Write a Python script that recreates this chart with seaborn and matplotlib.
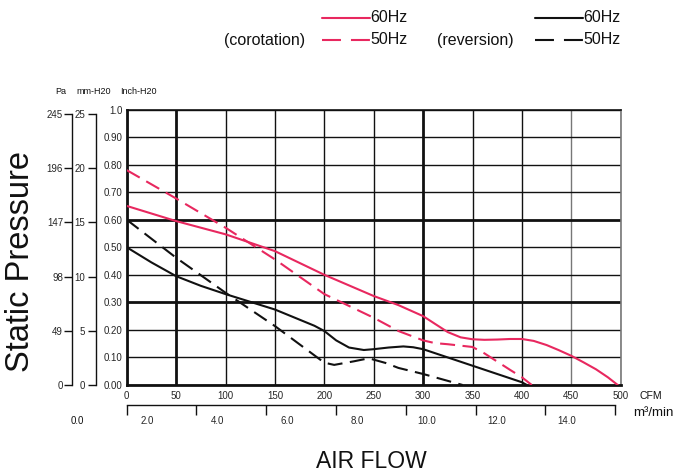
import numpy as np
import pandas as pd
import matplotlib
matplotlib.use("Agg")
import matplotlib.pyplot as plt
import seaborn as sns
from matplotlib.lines import Line2D
from matplotlib import font_manager

# ---------------- data ----------------
co60_cfm = [0, 50, 100, 150, 200, 250, 275, 300, 312, 325, 338, 350, 362, 375, 388, 400, 412, 425, 437, 450, 462, 475, 487, 497]
co60_p = [0.65, 0.595, 0.547, 0.486, 0.40, 0.323, 0.29, 0.25, 0.222, 0.192, 0.173, 0.166, 0.164, 0.165, 0.167, 0.167, 0.16, 0.145, 0.127, 0.106, 0.083, 0.057, 0.028, 0.0]

co50_cfm = [0, 50, 100, 150, 200, 250, 275, 300, 312, 325, 350, 362, 375, 388, 400, 410]
co50_p = [0.78, 0.677, 0.571, 0.456, 0.33, 0.244, 0.196, 0.162, 0.152, 0.148, 0.138, 0.115, 0.085, 0.055, 0.028, 0.0]

re60_cfm = [0, 25, 50, 75, 100, 150, 190, 200, 212, 225, 240, 250, 265, 280, 290, 300, 350, 400, 405]
re60_p = [0.50, 0.445, 0.395, 0.36, 0.33, 0.274, 0.215, 0.196, 0.162, 0.136, 0.127, 0.13, 0.136, 0.14, 0.137, 0.13, 0.07, 0.01, 0.0]

re50_cfm = [0, 50, 100, 150, 200, 210, 230, 245, 262, 275, 300, 340]
re50_p = [0.60, 0.462, 0.335, 0.214, 0.081, 0.073, 0.086, 0.097, 0.08, 0.062, 0.04, 0.0]

cfm_ticks = [0, 50, 100, 150, 200, 250, 300, 350, 400, 450, 500]
inch_ticks = [0.0, 0.1, 0.2, 0.3, 0.4, 0.5, 0.6, 0.7, 0.8, 0.9, 1.0]
inch_labels = ["0.00", "0.10", "0.20", "0.30", "0.40", "0.50", "0.60", "0.70", "0.80", "0.90", "1.0"]
pa_ticks = [0, 49, 98, 147, 196, 245]
mm_ticks = [0, 5, 10, 15, 20, 25]
m3_ticks = [0, 2, 4, 6, 8, 10, 12, 14]
m3_labels = ["2.0", "4.0", "6.0", "8.0", "10.0", "12.0", "14.0"]

RED = "#E8285F"
BLACK = "#111111"

# ---------------- style ----------------
sns.set_theme(style="white")
avail = {f.name for f in font_manager.fontManager.ttflist}
narrow = "Liberation Sans Narrow" if "Liberation Sans Narrow" in avail else "Liberation Sans"
plt.rcParams["font.family"] = ["Liberation Sans", "DejaVu Sans"]
plt.rcParams["text.color"] = "#111111"

W_PX, H_PX = 681, 475
fig = plt.figure(figsize=(W_PX / 100, H_PX / 100), dpi=100)

def fx(px):
    return px / W_PX

def fy(py):
    return 1 - py / H_PX

left_px, right_px, top_px, bot_px = 126.7, 620.7, 109.5, 385.0
ax = fig.add_axes([fx(left_px), fy(bot_px), fx(right_px) - fx(left_px), fy(top_px) - fy(bot_px)])

df = pd.concat([
    pd.DataFrame({"cfm": co60_cfm, "p": co60_p, "s": "co60"}),
    pd.DataFrame({"cfm": co50_cfm, "p": co50_p, "s": "co50"}),
    pd.DataFrame({"cfm": re60_cfm, "p": re60_p, "s": "re60"}),
    pd.DataFrame({"cfm": re50_cfm, "p": re50_p, "s": "re50"}),
])

dash = (0, (7.2, 3.6))
styles = {"co60": (RED, "-"), "co50": (RED, dash), "re60": (BLACK, "-"), "re50": (BLACK, dash)}
for key, (col, ls) in styles.items():
    sub = df[df["s"] == key]
    sns.lineplot(data=sub, x="cfm", y="p", ax=ax, color=col, linestyle=ls,
                 linewidth=1.5, sort=False, estimator=None, zorder=5)
for ln in ax.get_lines():
    ln.set_solid_joinstyle("round")
    ln.set_dash_joinstyle("round")

ax.set_xlim(0, 500)
ax.set_ylim(0, 1.0)
ax.set_xlabel("")
ax.set_ylabel("")
ax.set_xticks(cfm_ticks)
ax.set_xticklabels([str(t) for t in cfm_ticks], fontfamily=narrow, fontsize=7)
ax.set_yticks(inch_ticks)
ax.set_yticklabels(inch_labels, fontfamily=narrow, fontsize=7)
ax.tick_params(axis="x", length=0, pad=4)
ax.tick_params(axis="y", length=0, pad=3)
ax.set_axisbelow(True)
ax.grid(True, color="#111111", linewidth=1.0)
for t, gl in zip(cfm_ticks, ax.get_xgridlines()):
    if t in (50, 300):
        gl.set_linewidth(2.0)
    if t in (450, 500):
        gl.set_color("#777777")
for t, gl in zip(inch_ticks, ax.get_ygridlines()):
    if round(t, 1) in (0.3, 0.6):
        gl.set_linewidth(2.0)

for s in ax.spines.values():
    s.set_visible(True)
    s.set_color("#111111")
ax.spines["left"].set_linewidth(2.0)
ax.spines["bottom"].set_linewidth(2.0)
ax.spines["top"].set_linewidth(1.2)
ax.spines["right"].set_linewidth(1.2)
ax.spines["right"].set_color("#777777")

# ---------------- Pa axis ----------------
def px2pt(p):
    return p * 0.72

axp = ax.twinx()
axp.set_ylim(0, 25.4 * 9.80665)
for k in ("top", "right", "bottom"):
    axp.spines[k].set_visible(False)
axp.spines["left"].set_visible(True)
axp.spines["left"].set_position(("outward", px2pt(left_px - 72.5)))
axp.spines["left"].set_bounds(0, 245)
axp.spines["left"].set_linewidth(1.0)
axp.spines["left"].set_color("#111111")
axp.yaxis.set_ticks_position("left")
axp.set_yticks(pa_ticks)
axp.set_yticklabels([str(t) for t in pa_ticks], fontfamily=narrow, fontsize=7)
axp.tick_params(axis="y", direction="out", length=px2pt(8), width=1.0, pad=1, color="#111111")
axp.grid(False)

# ---------------- mm axis ----------------
axm = ax.twinx()
axm.set_ylim(0, 25.4)
for k in ("top", "right", "bottom"):
    axm.spines[k].set_visible(False)
axm.spines["left"].set_visible(True)
axm.spines["left"].set_position(("outward", px2pt(left_px - 96)))
axm.spines["left"].set_bounds(0, 25)
axm.spines["left"].set_linewidth(1.0)
axm.spines["left"].set_color("#111111")
axm.yaxis.set_ticks_position("left")
axm.set_yticks(mm_ticks)
axm.set_yticklabels([str(t) for t in mm_ticks], fontfamily=narrow, fontsize=7)
axm.tick_params(axis="y", direction="out", length=px2pt(8), width=1.0, pad=2, color="#111111")
axm.grid(False)

# ---------------- m3/min axis ----------------
axq = ax.twiny()
axq.set_xlim(0, 500 / 35.3147)
for k in ("top", "right", "left"):
    axq.spines[k].set_visible(False)
axq.spines["bottom"].set_visible(True)
axq.spines["bottom"].set_position(("outward", px2pt(405 - bot_px)))
axq.spines["bottom"].set_bounds(0, 14)
axq.spines["bottom"].set_linewidth(1.0)
axq.spines["bottom"].set_color("#111111")
axq.xaxis.set_ticks_position("bottom")
axq.set_xticks(m3_ticks)
axq.set_xticklabels([""] * len(m3_ticks))
axq.set_xticks(np.array(m3_ticks[:-1]) + 0.6, minor=True)
axq.set_xticklabels(m3_labels, minor=True, fontfamily=narrow, fontsize=7)
axq.tick_params(axis="x", which="major", direction="out", length=px2pt(10), width=1.0, color="#111111")
axq.tick_params(axis="x", which="minor", length=0, pad=8)
axq.grid(False)

fig.text(fx(77), fy(421), "0.0", fontfamily=narrow, fontsize=7, ha="center", va="center")
fig.text(fx(639), fy(396), "CFM", fontsize=7.5, ha="left", va="center")
fig.text(fx(633), fy(413), "m³/min", fontsize=9.5, ha="left", va="center")

# headers
fig.text(fx(61), fy(91), "Pa", fontfamily=narrow, fontsize=6.5, ha="center", va="center")
fig.text(fx(94), fy(91), "mm-H20", fontfamily=narrow, fontsize=6.5, ha="center", va="center")
fig.text(fx(138), fy(91), "Inch-H20", fontfamily=narrow, fontsize=6.5, ha="center", va="center")

fig.text(fx(21), fy(262), "Static Pressure", fontsize=23.5, rotation=90, ha="center", va="center")
fig.text(fx(371), fy(462), "AIR FLOW", fontsize=16.5, ha="center", va="center")

# ---------------- legend ----------------
leg_dash = (0, (9.1, 4.8))
def leg_line(x0, x1, y, col, ls):
    fig.add_artist(Line2D([fx(x0), fx(x1)], [fy(y), fy(y)], transform=fig.transFigure,
                          color=col, linestyle=ls, linewidth=1.5))

leg_line(322, 370, 18, RED, "-")
leg_line(322, 370, 40, RED, leg_dash)
leg_line(535, 583, 18, BLACK, "-")
leg_line(535, 583, 40, BLACK, leg_dash)
fig.text(fx(370), fy(18), "60Hz", fontsize=11.5, ha="left", va="center")
fig.text(fx(370), fy(40), "50Hz", fontsize=11.5, ha="left", va="center")
fig.text(fx(583), fy(18), "60Hz", fontsize=11.5, ha="left", va="center")
fig.text(fx(583), fy(40), "50Hz", fontsize=11.5, ha="left", va="center")
fig.text(fx(305), fy(40), "(corotation)", fontsize=11.5, ha="right", va="center")
fig.text(fx(514), fy(40), "(reversion)", fontsize=11.5, ha="right", va="center")

fig.savefig("out.png", dpi=100)
